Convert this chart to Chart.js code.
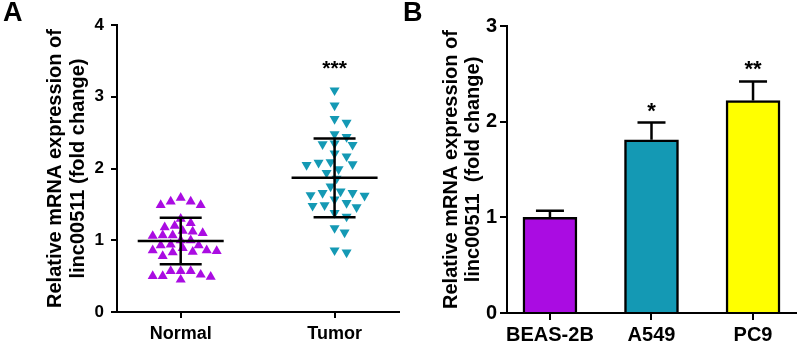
<!DOCTYPE html>
<html>
<head>
<meta charset="utf-8">
<script src="https://cdn.jsdelivr.net/npm/chart.js@4"></script>
<style>
  body { margin: 0; background: #fff; width: 797px; height: 344px; position: relative; overflow: hidden; }
  #boxA { position: absolute; left: 0; top: 0; width: 405px; height: 344px; }
  #boxB { position: absolute; left: 405px; top: 0; width: 392px; height: 344px; }
  .tag { position: absolute; font: bold 27px "Liberation Sans", Arial, sans-serif; color: #000; }
</style>
</head>
<body>
<div id="boxA"><canvas id="chartA"></canvas></div>
<div id="boxB"><canvas id="chartB"></canvas></div>
<div class="tag" style="left:3px;top:-3px">A</div>
<div class="tag" style="left:403px;top:-3px">B</div>
<script>
// Panel A: linc00511 in tissues
const groupsA = ['Normal', 'Tumor'];
const normalVals = [1.59, 1.54, 1.49, 1.49, 1.54, 1.30, 1.24, 1.20, 1.18,
  1.06, 1.07, 1.07, 1.12, 1.10, 1.13, 1.00, 1.00,
  0.86, 0.89, 0.93, 0.84, 0.93, 0.83, 0.85, 0.94, 0.86, 0.78,
  0.50, 0.57, 0.50, 0.57, 0.57, 0.45, 0.52, 0.49];
const tumorVals = [3.09, 2.88, 2.64, 2.69, 2.44, 2.48, 2.34, 2.35, 2.33, 2.21, 2.17,
  2.09, 2.08, 2.05, 2.06, 1.99, 1.94, 1.86, 1.75, 1.66, 1.68, 1.66, 1.63, 1.57, 1.62,
  1.46, 1.48, 1.52, 1.49, 1.38, 1.33, 1.11, 1.17, 0.83, 0.86];
const meanA = [0.99, 1.87];
const sdA = [0.325, 0.548];
const starsA = ['', '***'];
const starYA = [null, 3.44];

// Panel B: cell lines
const cellLines = ['BEAS-2B', 'A549', 'PC9'];
const barVals = [1.0, 1.81, 2.22];
const barErr = [0.07, 0.18, 0.20];
const starsB = ['', '*', '**'];
const starYB = [null, 2.14, 2.58];

const purple = 'rgb(170,12,226)';
const teal = 'rgb(20,153,180)';
const yellow = '#ffff00';
const FONT = '"Liberation Sans", Arial, sans-serif';

// simple beeswarm in pixel space, using the chart's own scales
// (markers are wider than tall, so the clearance is an ellipse)
function swarm(vals, center, xs, ys, rx, ry) {
  const cx = xs.getPixelForValue(center);
  const placed = [];
  const order = vals.map((v, i) => i).sort((a, b) => vals[b] - vals[a]);
  const out = new Array(vals.length);
  order.forEach(i => {
    const py = ys.getPixelForValue(vals[i]);
    let k = 0, px = cx;
    while (true) {
      const off = k === 0 ? 0 : (k % 2 ? 1 : -1) * Math.ceil(k / 2) * 2;
      px = cx + off;
      const free = placed.every(p => {
        const dx = (p[0] - px) / rx, dy = (p[1] - py) / ry;
        return dx * dx + dy * dy >= 1;
      });
      if (free) break;
      k++;
    }
    placed.push([px, py]);
    out[i] = { x: xs.getValueForPixel(px), y: vals[i] };
  });
  return out;
}

const meanSdPlugin = {
  id: 'meanSd',
  afterDatasetsDraw(chart) {
    const { ctx, scales: { x, y } } = chart;
    ctx.save();
    ctx.strokeStyle = '#000';
    ctx.lineWidth = 2.5;
    meanA.forEach((m, i) => {
      const c = x.getPixelForValue(i + 1);
      const ym = y.getPixelForValue(m);
      const yt = y.getPixelForValue(m + sdA[i]);
      const yb = y.getPixelForValue(m - sdA[i]);
      ctx.beginPath();
      ctx.moveTo(c - 43, ym); ctx.lineTo(c + 43, ym);
      ctx.moveTo(c, yt); ctx.lineTo(c, yb);
      ctx.moveTo(c - 21, yt); ctx.lineTo(c + 21, yt);
      ctx.moveTo(c - 21, yb); ctx.lineTo(c + 21, yb);
      ctx.stroke();
    });
    ctx.fillStyle = '#000';
    ctx.font = 'bold 21px ' + FONT;
    ctx.textAlign = 'center';
    ctx.textBaseline = 'middle';
    starsA.forEach((s, i) => {
      if (s) ctx.fillText(s, x.getPixelForValue(i + 1), y.getPixelForValue(starYA[i]) + 4);
    });
    ctx.restore();
  }
};

const errBarPlugin = {
  id: 'errBars',
  afterDatasetsDraw(chart) {
    const { ctx, scales: { x, y } } = chart;
    ctx.save();
    ctx.strokeStyle = '#000';
    ctx.lineWidth = 2.5;
    barVals.forEach((v, i) => {
      const c = x.getPixelForValue(i);
      const y0 = y.getPixelForValue(v);
      const y1 = y.getPixelForValue(v + barErr[i]);
      ctx.beginPath();
      ctx.moveTo(c, y0); ctx.lineTo(c, y1);
      ctx.moveTo(c - 14, y1); ctx.lineTo(c + 14, y1);
      ctx.stroke();
    });
    ctx.fillStyle = '#000';
    ctx.font = 'bold 22px ' + FONT;
    ctx.textAlign = 'center';
    ctx.textBaseline = 'middle';
    starsB.forEach((s, i) => {
      if (s) ctx.fillText(s, x.getPixelForValue(i), y.getPixelForValue(starYB[i]) + 4);
    });
    ctx.restore();
  }
};

function axisGrid(len) {
  return { display: true, drawOnChartArea: false, drawTicks: true, tickLength: len, color: '#000', lineWidth: 2, offset: false };
}

Chart.defaults.font.family = FONT;
Chart.defaults.color = '#000';

const chartA = new Chart(document.getElementById('chartA'), {
  type: 'scatter',
  data: {
    datasets: [
      { data: normalVals.map(v => ({ x: 1, y: v })), pointStyle: 'triangle', pointRadius: 5.8,
        backgroundColor: purple, borderColor: purple, borderWidth: 0 },
      { data: tumorVals.map(v => ({ x: 2, y: v })), pointStyle: 'triangle', rotation: 180, pointRadius: 5.8,
        backgroundColor: teal, borderColor: teal, borderWidth: 0 }
    ]
  },
  options: {
    responsive: true, maintainAspectRatio: false, animation: false,
    layout: { padding: { top: 25, left: 0, right: 0, bottom: 0 } },
    plugins: { legend: { display: false }, tooltip: { enabled: false } },
    scales: {
      x: {
        type: 'linear', min: 0.586, max: 2.42,
        afterBuildTicks: s => { s.ticks = [{ value: 1 }, { value: 2 }]; },
        afterFit: s => { s.height = 32; },
        grid: axisGrid(6),
        border: { display: true, color: '#000', width: 2 },
        ticks: { padding: 5, font: { size: 18, weight: 'bold' }, callback: v => groupsA[v - 1] }
      },
      y: {
        min: 0, max: 4,
        afterFit: s => { s.width = 117; },
        grid: axisGrid(6),
        border: { display: true, color: '#000', width: 2 },
        ticks: { stepSize: 1, padding: 7, font: { size: 17, weight: 'bold' } },
        title: {
          display: true,
          text: ['Relative mRNA expression of', 'linc00511 (fold change)'],
          font: { size: 20, weight: 'bold', lineHeight: 1.15 },
          padding: { top: 43.5, bottom: 0 }
        }
      }
    }
  },
  plugins: [meanSdPlugin]
});

// spread the points once the scales are known
chartA.data.datasets[0].data = swarm(normalVals, 1, chartA.scales.x, chartA.scales.y, 10, 8);
chartA.data.datasets[1].data = swarm(tumorVals, 2, chartA.scales.x, chartA.scales.y, 11, 9);
chartA.update('none');

new Chart(document.getElementById('chartB'), {
  type: 'bar',
  data: {
    datasets: [{
      data: barVals.map((v, i) => ({ x: i, y: v })),
      backgroundColor: [purple, teal, yellow],
      borderColor: '#000',
      borderWidth: 2.5,
      borderSkipped: 'start',
      barThickness: 54
    }]
  },
  options: {
    responsive: true, maintainAspectRatio: false, animation: false,
    layout: { padding: { top: 26, left: 0, right: 0, bottom: 0 } },
    plugins: { legend: { display: false }, tooltip: { enabled: false } },
    scales: {
      x: {
        type: 'linear', min: -0.423, max: 2.433, offset: false,
        afterBuildTicks: s => { s.ticks = cellLines.map((c, i) => ({ value: i })); },
        afterFit: s => { s.height = 31; },
        grid: axisGrid(7),
        border: { display: true, color: '#000', width: 2 },
        ticks: { padding: 3, font: { size: 20, weight: 'bold' }, callback: v => cellLines[v] }
      },
      y: {
        min: 0, max: 3,
        afterFit: s => { s.width = 102; },
        grid: axisGrid(7),
        border: { display: true, color: '#000', width: 2 },
        ticks: { stepSize: 1, padding: 3, font: { size: 20, weight: 'bold' } },
        title: {
          display: true,
          text: ['Relative mRNA expression of', 'linc00511  (fold change)'],
          font: { size: 20, weight: 'bold', lineHeight: 1.08 },
          padding: { top: 36, bottom: 0 }
        }
      }
    }
  },
  plugins: [errBarPlugin]
});
</script>
</body>
</html>
